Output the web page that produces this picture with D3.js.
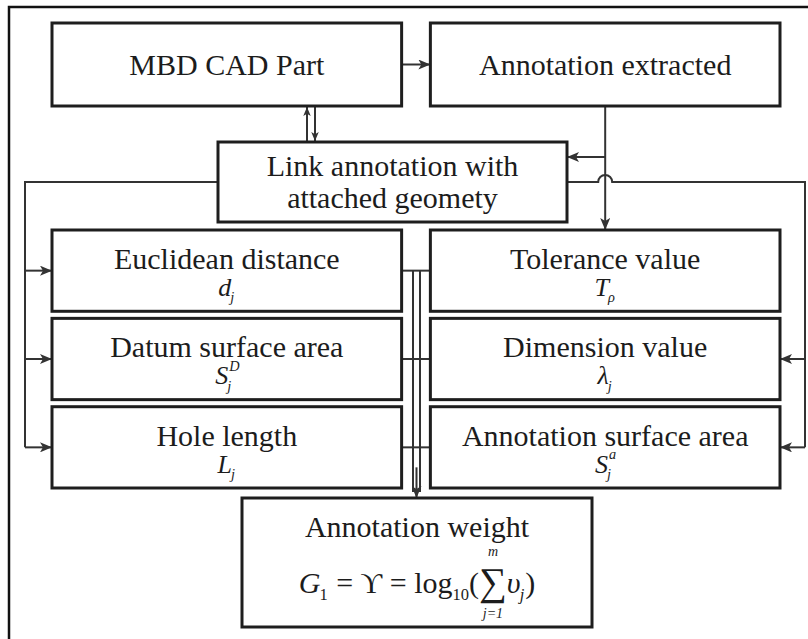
<!DOCTYPE html>
<html>
<head>
<meta charset="utf-8">
<script src="https://cdn.jsdelivr.net/npm/d3@7"></script>
<style>
	body { margin: 0; background: #fff; }
	text { font-family: "Liberation Serif", "Times New Roman", Times, "DejaVu Serif", serif; fill: #1c1c1c; white-space: pre; }
</style>
</head>
<body>
<div id="chart-area"></div>
<script>
// box labels
const topLabels = ["MBD CAD Part", "Annotation extracted"];
const linkLines = ["Link annotation with", "attached geomety"];
const leftLabels = ["Euclidean distance", "Datum surface area", "Hole length"];
const rightLabels = ["Tolerance value", "Dimension value", "Annotation surface area"];

// symbols under the factor labels
const leftSymbols = [
	[{t: "d", sub: "j"}],
	[{t: "S", sub: "j", sup: "D"}],
	[{t: "L", sub: "j"}]
];
const rightSymbols = [
	[{t: "T", sub: "ρ"}],
	[{t: "λ", sub: "j"}],
	[{t: "S", sub: "j", sup: "a"}]
];

const weightTitle = "Annotation weight";
const weightFormula = [
	{t: "G", sub: "1"},
	{t: " = ", up: true},
	{t: "ϒ", up: true},
	{t: " = log", up: true, sub: "10"},
	{t: "(", up: true},
	{t: "∑", up: true, big: true, over: "m", under: "j=1"},
	{t: "υ", sub: "j"},
	{t: ")", up: true}
];

const W = 808, H = 639;

let svg = d3.select("#chart-area").append("svg")
	.attr("width", W)
	.attr("height", H);

svg.append("rect").attr("width", W).attr("height", H).attr("fill", "#fff");

// arrow heads
let defs = svg.append("defs");
defs.append("marker")
	.attr("id", "arr")
	.attr("markerUnits", "userSpaceOnUse")
	.attr("viewBox", "0 0 12 10")
	.attr("refX", 12).attr("refY", 5)
	.attr("markerWidth", 13).attr("markerHeight", 10)
	.attr("orient", "auto")
	.append("path").attr("d", "M0,0 L12,5 L0,10 L3,5 Z").attr("fill", "#333");
defs.append("marker")
	.attr("id", "arrS")
	.attr("markerUnits", "userSpaceOnUse")
	.attr("viewBox", "0 0 12 10")
	.attr("refX", 12).attr("refY", 5)
	.attr("markerWidth", 9).attr("markerHeight", 8)
	.attr("orient", "auto")
	.append("path").attr("d", "M0,0 L12,5 L0,10 L3,5 Z").attr("fill", "#333");

// outer frame (only top and left edges visible)
svg.append("path")
	.attr("d", `M9,${H} V7 H${W}`)
	.attr("fill", "none").attr("stroke", "#111").attr("stroke-width", 2.5);

// layout scales
let col = d3.scaleBand().domain([0, 1]).range([52, 780]).paddingInner(0.076);
let row = d3.scaleBand().domain([0, 1, 2]).range([230, 488]).paddingInner(0.08);

const topBox = {y: 23, h: 83};
const linkBox = {x: 218, y: 142, w: 349, h: 80};
const weightBox = {x: 242, y: 498, w: 350, h: 129};

function box(x, y, w, h) {
	svg.append("rect")
		.attr("x", x).attr("y", y).attr("width", w).attr("height", h)
		.attr("fill", "#fff").attr("stroke", "#1e1e1e").attr("stroke-width", 3);
}

function label(txt, cx, y, size) {
	svg.append("text")
		.attr("x", cx).attr("y", y)
		.attr("text-anchor", "middle")
		.attr("font-size", size)
		.text(txt);
}

// draws a row of math pieces centred on cx
function drawMath(pieces, cx, baseline, size) {
	let grp = svg.append("g");
	let x = 0;
	pieces.forEach(p => {
		let it = !p.up;
		let fs = p.big ? size * 1.3 : size;
		let base = grp.append("text")
			.attr("x", x).attr("y", baseline + (p.big ? size * 0.08 : 0))
			.attr("font-size", fs)
			.attr("font-style", it ? "italic" : "normal")
			.text(p.t);
		let w = base.node().getComputedTextLength();
		let ss = size * 0.55, sw = 0;
		let sStyle = s => (it && !/^[0-9=]+$/.test(s)) ? "italic" : "normal";
		if (p.sub) {
			let s = grp.append("text")
				.attr("x", x + w - (it ? 1 : 0)).attr("y", baseline + size * 0.24)
				.attr("font-size", ss).attr("font-style", sStyle(p.sub)).text(p.sub);
			sw = Math.max(sw, s.node().getComputedTextLength());
		}
		if (p.sup) {
			let s = grp.append("text")
				.attr("x", x + w + 1).attr("y", baseline - size * 0.53)
				.attr("font-size", ss).attr("font-style", sStyle(p.sup)).text(p.sup);
			sw = Math.max(sw, s.node().getComputedTextLength());
		}
		if (p.over) {
			grp.append("text")
				.attr("x", x + w / 2).attr("y", baseline - size * 1.22)
				.attr("text-anchor", "middle").attr("font-size", ss * 0.85)
				.attr("font-style", "italic").text(p.over);
		}
		if (p.under) {
			grp.append("text")
				.attr("x", x + w / 2).attr("y", baseline + size * 0.82)
				.attr("text-anchor", "middle").attr("font-size", ss * 0.85)
				.attr("font-style", "italic").text(p.under);
		}
		x += w + sw;
	});
	grp.attr("transform", `translate(${cx - x / 2},0)`);
}

function line(d, marker) {
	let p = svg.append("path")
		.attr("d", d)
		.attr("fill", "none").attr("stroke", "#333").attr("stroke-width", 2);
	if (marker) p.attr("marker-end", `url(#${marker})`);
	return p;
}

// ---- connectors ----
let lx = col(0), rx = col(1), bw = col.bandwidth();
let topMid = topBox.y + topBox.h / 2;
let rowMid = i => row(i) + row.bandwidth() / 2;
let rcx = rx + bw / 2;

// MBD -> annotation extracted
line(`M${lx + bw},${topMid} H${rx}`, "arr");
// annotation extracted -> tolerance value
line(`M${rcx},${topBox.y + topBox.h} V${row(0)}`, "arr");
// branch back into link box
line(`M${rcx},${linkBox.y + 15} H${linkBox.x + linkBox.w}`, "arr");
// link box <-> MBD part
line(`M307,${linkBox.y} V${topBox.y + topBox.h + 1}`, "arrS");
line(`M315,${topBox.y + topBox.h} V${linkBox.y - 1}`, "arrS");

// link box -> left factors
let busY = linkBox.y + linkBox.h / 2;
line(`M${linkBox.x},${busY} H25 V${rowMid(2)}`);
[0, 1, 2].forEach(i => line(`M25,${rowMid(i)} H${lx}`, "arr"));

// link box -> right factors (with a hop over the vertical line)
line(`M${linkBox.x + linkBox.w},${busY} H${rcx - 7} A7,7 0 0 1 ${rcx + 7},${busY} H805 V${rowMid(2)}`);
[1, 2].forEach(i => line(`M805,${rowMid(i)} H${rx + bw}`, "arr"));

// factors -> weight
let v1 = 413, v2 = 420;
[0, 1, 2].forEach(i => line(`M${lx + bw},${rowMid(i)} H${rx}`));
line(`M${v1},${rowMid(0)} V${weightBox.y - 6}`);
line(`M${v2},${rowMid(0)} V${weightBox.y - 6}`);
line(`M${(v1 + v2) / 2},${rowMid(2) + 20} V${weightBox.y}`, "arr");

// ---- boxes ----
topLabels.forEach((t, i) => {
	box(col(i), topBox.y, bw, topBox.h);
	label(t, col(i) + bw / 2, topBox.y + 52, 30);
});

box(linkBox.x, linkBox.y, linkBox.w, linkBox.h);
linkLines.forEach((t, i) => label(t, linkBox.x + linkBox.w / 2, linkBox.y + 34 + i * 32, 30));

leftLabels.forEach((t, i) => {
	box(lx, row(i), bw, row.bandwidth());
	label(t, lx + bw / 2, row(i) + 39, 30);
	drawMath(leftSymbols[i], lx + bw / 2, row(i) + 66, 26);
});

rightLabels.forEach((t, i) => {
	box(rx, row(i), bw, row.bandwidth());
	label(t, rx + bw / 2, row(i) + 39, 30);
	drawMath(rightSymbols[i], rx + bw / 2, row(i) + 66, 26);
});

box(weightBox.x, weightBox.y, weightBox.w, weightBox.h);
label(weightTitle, weightBox.x + weightBox.w / 2, weightBox.y + 39, 30);
drawMath(weightFormula, weightBox.x + weightBox.w / 2, weightBox.y + 95, 30);
</script>
</body>
</html>
